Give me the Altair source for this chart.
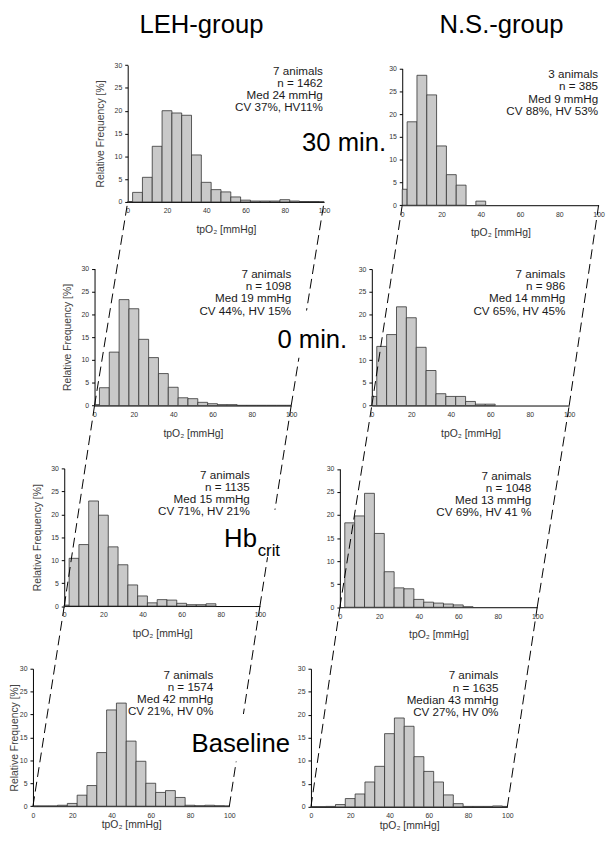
import altair as alt
import pandas as pd

# ---------------- data ----------------
bin_centers = [0, 5, 10, 15, 20, 25, 30, 35, 40, 45, 50, 55, 60, 65, 70, 75, 80, 85, 90, 95, 100]

leh_30 = [0.1, 2.1, 5.4, 12.2, 20.0, 19.5, 19.0, 10.3, 4.3, 2.7, 2.2, 1.1, 0.4, 0.2, 0.2, 0.2, 0.5, 0.2, 0.1, 0.1, 0.05]
ns_30 = [3.5, 18.3, 28.5, 24.2, 13.0, 6.7, 4.4, 0, 0.9, 0, 0, 0, 0, 0, 0, 0, 0, 0, 0, 0, 0]
leh_0 = [0.2, 3.9, 11.7, 23.2, 21.2, 14.5, 10.5, 7.0, 4.0, 1.7, 1.5, 0.7, 0.4, 0.2, 0.2, 0.05, 0.05, 0.05, 0.05, 0.05, 0.05]
ns_0 = [2.0, 13.0, 15.6, 21.7, 19.3, 12.8, 7.7, 2.6, 2.0, 2.0, 0.9, 0.3, 0.3, 0, 0, 0, 0, 0, 0, 0, 0]
leh_hb = [0.2, 10.4, 13.4, 22.9, 19.8, 12.9, 9.0, 4.6, 2.2, 0.7, 1.4, 1.3, 0.6, 0.3, 0.3, 0.5, 0, 0, 0, 0, 0]
ns_hb = [0, 18.3, 19.8, 24.7, 16.0, 7.7, 4.2, 4.0, 1.7, 1.1, 0.9, 0.7, 0.5, 0.1, 0, 0, 0, 0, 0, 0, 0]
leh_base = [0.05, 0.05, 0.05, 0.2, 0.6, 2.4, 4.5, 11.7, 21.0, 22.5, 14.2, 9.8, 5.0, 3.0, 3.4, 1.9, 0.2, 0.1, 0.2, 0.1, 0.05]
ns_base = [0.05, 0.05, 0.1, 0.5, 1.8, 2.8, 5.4, 8.8, 15.9, 19.3, 17.5, 10.9, 7.7, 5.4, 2.6, 0.7, 0.1, 0.1, 0.1, 0.2, 0.1]

x_ticks = [0, 20, 40, 60, 80, 100]
y_ticks = [0, 5, 10, 15, 20, 25, 30]

ann_leh_30 = ["7 animals", "n = 1462", "Med 24 mmHg", "CV 37%, HV11%"]
ann_ns_30 = ["3 animals", "n = 385", "Med 9 mmHg", "CV 88%, HV 53%"]
ann_leh_0 = ["7 animals", "n = 1098", "Med 19 mmHg", "CV 44%, HV 15%"]
ann_ns_0 = ["7 animals", "n = 986", "Med 14 mmHg", "CV 65%, HV 45%"]
ann_leh_hb = ["7 animals", "n = 1135", "Med 15 mmHg", "CV 71%, HV 21%"]
ann_ns_hb = ["7 animals", "n = 1048", "Med 13 mmHg", "CV 69%, HV 41 %"]
ann_leh_base = ["7 animals", "n = 1574", "Med 42 mmHg", "CV 21%, HV 0%"]
ann_ns_base = ["7 animals", "n = 1635", "Median 43 mmHg", "CV 27%, HV 0%"]

group_titles = ["LEH-group", "N.S.-group"]
x_title = "tpO\u2082 [mmHg]"
y_title = "Relative Frequency [%]"

# ---------------- layout (page geometry) ----------------
W, H = 606, 830
FONT = "Liberation Sans, Arial, sans-serif"


def px(rx):
    return rx - 8


def py(ry):
    return ry - 10


panels = [
    dict(vals=leh_30, ann=ann_leh_30, x0=129.3, x1=328.3, y0=201.0, y30=62.3, ytitle=True, ar=327, at=68, tpx=11, tpy=8.5),
    dict(vals=ns_30, ann=ann_ns_30, x0=407.5, x1=606.5, y0=204.3, y30=65.7, ytitle=False, ar=606, at=71.5, tpx=11, tpy=8.5),
    dict(vals=leh_0, ann=ann_leh_0, x0=95.7, x1=295.0, y0=407.3, y30=268.5, ytitle=True, ar=295, at=274, tpx=11, tpy=8.5),
    dict(vals=ns_0, ann=ann_ns_0, x0=376.7, x1=576.7, y0=407.3, y30=269.0, ytitle=False, ar=572.7, at=274, tpx=11, tpy=8.5),
    dict(vals=leh_hb, ann=ann_leh_hb, x0=65.0, x1=263.3, y0=610.5, y30=471.0, ytitle=True, ar=253, at=477.5, tpx=11, tpy=8.5),
    dict(vals=ns_hb, ann=ann_ns_hb, x0=344.3, x1=544.3, y0=611.7, y30=471.5, ytitle=False, ar=538.3, at=478.5, tpx=11, tpy=8.5),
    dict(vals=leh_base, ann=ann_leh_base, x0=33.3, x1=232.3, y0=813.3, y30=674.0, ytitle=True, ar=216, at=680, tpx=2, tpy=0),
    dict(vals=ns_base, ann=ann_ns_base, x0=315.0, x1=514.0, y0=814.0, y30=674.0, ytitle=False, ar=505, at=680.7, tpx=2, tpy=8.5),
]
LINE_H = 12.4

layers = []
for p in panels:
    lo = [max(0, c - 2.5) for c in bin_centers]
    hi = [min(100, c + 2.5) for c in bin_centers]
    df = pd.DataFrame({"lo": lo, "hi": hi, "freq": p["vals"], "base": [0] * len(lo)})
    df = df[df["freq"] > 0]
    cx0, cx1 = px(p["x0"]), px(p["x1"])
    cy0, cy30 = py(p["y0"]), py(p["y30"])
    xaxis = alt.Axis(
        orient="bottom", offset=cy0 - H, values=x_ticks, ticks=False, grid=False,
        labelFontSize=7, labelPadding=5, labelFlush=False, labelOverlap=False,
        labelColor="#333333", labelFont=FONT, domainColor="#000000", domainWidth=1,
        title=x_title, titleFontSize=10.5, titleFontWeight="normal", titleColor="#333333",
        titleFont=FONT, titlePadding=p["tpx"],
    )
    ykw = dict(
        orient="left", offset=-cx0, values=y_ticks, grid=False, tickSize=3, tickColor="#000000",
        labelFontSize=7, labelPadding=3, labelColor="#333333", labelFont=FONT,
        domainColor="#000000", domainWidth=1, labelFlush=False, labelOverlap=False,
    )
    if p["ytitle"]:
        ykw.update(title=y_title, titleFontSize=10.5, titleFontWeight="normal", titleColor="#444444",
                   titleFont=FONT, titlePadding=p["tpy"])
    else:
        ykw.update(title=None)
    bar = alt.Chart(df).mark_rect(fill="#c9c9c9", stroke="#333333", strokeWidth=0.8).encode(
        x=alt.X("lo:Q", scale=alt.Scale(domain=[0, 100], range=[cx0, cx1], nice=False, zero=False), axis=xaxis),
        x2="hi:Q",
        y=alt.Y("freq:Q", scale=alt.Scale(domain=[0, 30], range=[cy0, cy30], nice=False, zero=False), axis=alt.Axis(**ykw)),
        y2="base:Q",
    )
    layers.append(bar)

# dashed connectors between the x-axis ends of consecutive panels
conn = []
for col in (0, 1):
    column = [panels[i] for i in (6 + col, 4 + col, 2 + col, 0 + col)]  # bottom -> top
    for a, b in zip(column[:-1], column[1:]):
        for key in ("x0", "x1"):
            conn.append(dict(x=px(a[key]), y=py(a["y0"]), x2=px(b[key]), y2=py(b["y0"])))
conn_df = pd.DataFrame(conn)
rules = alt.Chart(conn_df).mark_rule(color="#000000", strokeWidth=1, strokeDash=[10, 5]).encode(
    x=alt.X("x:Q", scale=None, axis=None), y=alt.Y("y:Q", scale=None, axis=None),
    x2="x2:Q", y2="y2:Q",
)
layers.append(rules)

# row labels (with white text boxes that interrupt the dashed lines)
RL_FS = 26
row_labels = [
    dict(text="30 min.", x=306, y=149, l=306, r=392, box=False),
    dict(text="0 min.", x=281, y=349, l=281, r=353, box=True),
    dict(text="Hb", x=227, y=551, l=227, r=285, box=True),
    dict(text="Baseline", x=194, y=758, l=194, r=293, box=True),
]
box_df = pd.DataFrame([
    dict(x=px(d["l"] - 3), x2=px(d["r"] + 3), y=py(d["y"] - 38), y2=py(d["y"] + 10))
    for d in row_labels if d["box"]
])
boxes = alt.Chart(box_df).mark_rect(fill="white", stroke=None).encode(
    x=alt.X("x:Q", scale=None, axis=None), x2="x2:Q",
    y=alt.Y("y:Q", scale=None, axis=None), y2="y2:Q",
)
layers.append(boxes)

rl_df = pd.DataFrame([dict(t=d["text"], x=px(d["x"]), y=py(d["y"])) for d in row_labels])
rl = alt.Chart(rl_df).mark_text(align="left", baseline="alphabetic", fontSize=RL_FS, font=FONT, color="#000000").encode(
    x=alt.X("x:Q", scale=None, axis=None), y=alt.Y("y:Q", scale=None, axis=None), text="t:N",
)
layers.append(rl)
sub_df = pd.DataFrame([dict(t="crit", x=px(261), y=py(560))])
sub = alt.Chart(sub_df).mark_text(align="left", baseline="alphabetic", fontSize=17, font=FONT, color="#000000").encode(
    x=alt.X("x:Q", scale=None, axis=None), y=alt.Y("y:Q", scale=None, axis=None), text="t:N",
)
layers.append(sub)

# annotation blocks
ann_rows = []
for p in panels:
    for i, line in enumerate(p["ann"]):
        ann_rows.append(dict(t=line, x=px(p["ar"]), y=py(p["at"] + i * LINE_H)))
ann_df = pd.DataFrame(ann_rows)
ann = alt.Chart(ann_df).mark_text(align="right", baseline="middle", fontSize=11.8, font=FONT, color="#1a1a1a").encode(
    x=alt.X("x:Q", scale=None, axis=None), y=alt.Y("y:Q", scale=None, axis=None), text="t:N",
)
layers.append(ann)

# group titles
gt_df = pd.DataFrame([
    dict(t=group_titles[0], x=px(204), y=20),
    dict(t=group_titles[1], x=px(508), y=20),
])
gt = alt.Chart(gt_df).mark_text(align="center", baseline="alphabetic", fontSize=26, font=FONT, color="#000000").encode(
    x=alt.X("x:Q", scale=None, axis=None), y=alt.Y("y:Q", scale=None, axis=None), text="t:N",
)
layers.append(gt)

chart = alt.layer(*layers).resolve_scale(x="independent", y="independent").properties(
    width=W, height=H, padding=0, autosize=alt.AutoSizeParams(type="none"), background="white",
).configure_view(stroke=None)

chart.save("out.html", embed_options={"renderer": "svg", "actions": False})
